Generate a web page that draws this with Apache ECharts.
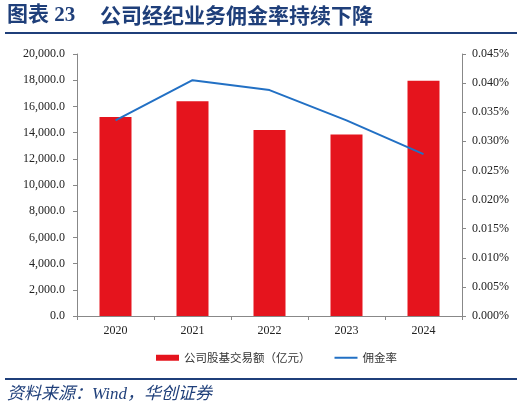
<!DOCTYPE html>
<html>
<head>
<meta charset="utf-8">
<script src="https://cdn.jsdelivr.net/npm/echarts@6/dist/echarts.min.js"></script>
<style>
  html, body { margin: 0; padding: 0; background: #fff; }
  #chart { width: 524px; height: 409px; }
</style>
</head>
<body>
<div id="chart"></div>
<script>
var years = ['2020', '2021', '2022', '2023', '2024'];
var tradeAmt = [15200, 16400, 14200, 13850, 17950];     // 公司股基交易额（亿元）
var commRate = [0.0336, 0.0405, 0.0388, 0.0336, 0.0278]; // 佣金率（%）

var titleBlue = '#1f3f7a';
var serif = '"Liberation Serif", "Times New Roman", serif';
var cjk = '"Noto Sans CJK SC", sans-serif';

var chart = echarts.init(document.getElementById('chart'));

var option = {
    animation: false,
    backgroundColor: '#fff',
    grid: { left: 77, right: 62, top: 54, bottom: 93 },
    legend: {
        left: 151,
        top: 347,
        itemWidth: 23,
        itemHeight: 6,
        itemGap: 24,
        symbolKeepAspect: true,
        textStyle: { fontFamily: cjk, fontSize: 11.5, color: '#333' },
        data: [
            { name: '公司股基交易额（亿元）', icon: 'rect' },
            { name: '佣金率', icon: 'path://M0,0L46,0L46,4L0,4Z' }
        ]
    },
    xAxis: {
        type: 'category',
        data: years,
        axisLine: { lineStyle: { color: '#888', width: 1 } },
        axisTick: { show: true, length: 4, lineStyle: { color: '#888' } },
        axisLabel: { fontFamily: serif, fontSize: 12, color: '#222', margin: 9 }
    },
    yAxis: [
        {
            type: 'value',
            min: 0,
            max: 20000,
            interval: 2000,
            axisLine: { show: true, lineStyle: { color: '#888' } },
            axisTick: { show: true, length: 4, lineStyle: { color: '#888' } },
            splitLine: { show: false },
            axisLabel: {
                fontFamily: serif, fontSize: 12, color: '#222', margin: 12,
                formatter: function (v) {
                    return v.toLocaleString('en-US', { minimumFractionDigits: 1, maximumFractionDigits: 1 });
                }
            }
        },
        {
            type: 'value',
            min: 0,
            max: 0.045,
            interval: 0.005,
            position: 'right',
            axisLine: { show: true, lineStyle: { color: '#888' } },
            axisTick: { show: true, length: 4, lineStyle: { color: '#888' } },
            splitLine: { show: false },
            axisLabel: {
                fontFamily: serif, fontSize: 12, color: '#222', margin: 10,
                formatter: function (v) { return v.toFixed(3) + '%'; }
            }
        }
    ],
    series: [
        {
            name: '公司股基交易额（亿元）',
            type: 'bar',
            data: tradeAmt,
            barWidth: 32,
            itemStyle: { color: '#e5141d' }
        },
        {
            name: '佣金率',
            type: 'line',
            yAxisIndex: 1,
            data: commRate,
            symbol: 'none',
            lineStyle: { color: '#2270c4', width: 2 },
            itemStyle: { color: '#2270c4' }
        }
    ],
    graphic: [
        {
            type: 'text', left: 7, top: 5,
            style: {
                text: '图表 23', fill: titleBlue,
                font: 'bold 21px "Liberation Serif", "Noto Sans CJK SC", serif'
            }
        },
        {
            type: 'text', left: 100, top: 5,
            style: {
                text: '公司经纪业务佣金率持续下降', fill: titleBlue,
                font: 'bold 21px "Noto Sans CJK SC", sans-serif'
            }
        },
        {
            type: 'rect', shape: { x: 5, y: 32, width: 512, height: 2 },
            style: { fill: titleBlue }
        },
        {
            type: 'rect', shape: { x: 5, y: 378, width: 512, height: 2 },
            style: { fill: titleBlue }
        },
        {
            type: 'text', left: 7, top: 386,
            style: {
                text: '资料来源：Wind，华创证券', fill: titleBlue,
                font: 'italic 17px "Liberation Serif", "Noto Sans CJK SC", serif'
            }
        }
    ]
};

chart.setOption(option);
</script>
</body>
</html>
